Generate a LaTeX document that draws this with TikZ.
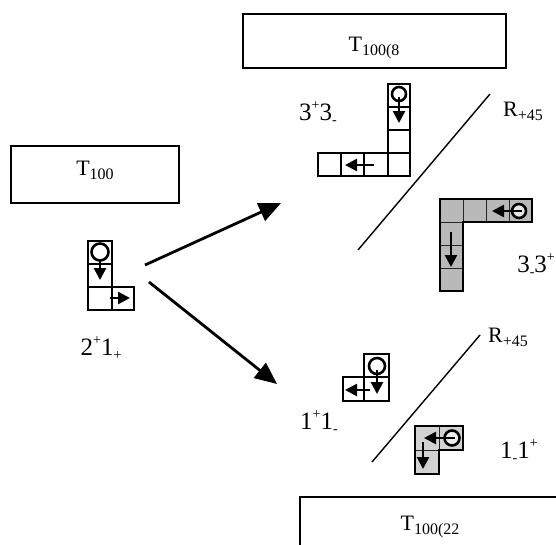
\documentclass[tikz,border=0pt]{standalone}
\usepackage{fontspec}
\setmainfont{Liberation Serif}
\usetikzlibrary{arrows.meta}
\newcommand\lsup[1]{\raisebox{0.42em}{\fontsize{14}{14}\selectfont #1}}
\newcommand\lsub[1]{\raisebox{-0.18em}{\fontsize{14}{14}\selectfont #1}}
\newcommand\tsub[1]{\raisebox{-0.2em}{\fontsize{16}{16}\selectfont #1}}
\begin{document}
\begin{tikzpicture}[x=1pt,y=-1pt,
  box/.style={draw, line width=1.2pt, inner sep=0pt},
  cell/.style={draw, line width=1.4pt},
  gline/.style={line width=0.5pt, gray!30!black},
  ring/.style={line width=2.6pt},
  arr/.style={-{Triangle[length=12pt,width=12pt]}, line width=2.6pt},
  bigarr/.style={-{Triangle[length=22pt,width=19pt]}, line width=2.8pt},
  lab/.style={font=\fontsize{25}{25}\selectfont, anchor=base, inner sep=0pt},
  tlab/.style={font=\fontsize{22}{22}\selectfont, anchor=base, inner sep=0pt},
  mir/.style={line width=1.4pt}]
\useasboundingbox (0,0) rectangle (556,544);
\clip (0,0) rectangle (556,544);

% boxes
\node[box, minimum width=263pt, minimum height=54pt] (b8) at (374.5,41) {};
\node[tlab] (t8) at (374,51) {T\tsub{100(8}};
\node[box, minimum width=168pt, minimum height=57pt] (b0) at (95,174.5) {};
\node[tlab] (t0) at (95,175) {T\tsub{100}};
\node[box, minimum width=262pt, minimum height=53pt] (b22) at (431,523.5) {};
\node[tlab] (t22) at (430,530) {T\tsub{100(22}};

% shape 2+1+
\draw[cell] (88,241) rectangle (112,264);
\draw[cell] (88,264) rectangle (112,287);
\draw[cell] (88,287) rectangle (112,310);
\draw[cell] (112,287) rectangle (134,310);
\draw[ring] (100,252) circle (8.5pt);
\draw[arr] (100,259) -- (100,280);
\draw[arr] (110,298) -- (130,298);
\node[lab] (l21) at (101,355) {2\lsup{+}1\lsub{+}};

% shape 3+3-
\draw[cell] (388,84) rectangle (410,107);
\draw[cell] (388,107) rectangle (410,130);
\draw[cell] (388,130) rectangle (410,153);
\draw[cell] (388,153) rectangle (410,176);
\draw[cell] (318,153) rectangle (341,176);
\draw[cell] (341,153) rectangle (364,176);
\draw[cell] (364,153) rectangle (388,176);
\draw[ring] (399,94) circle (7pt);
\draw[arr] (399,97) -- (399,123);
\draw[arr] (374,165) -- (345,165);
\node[lab] (l33a) at (318,120) {3\lsup{+}3\lsub{-}};

% shape 3-3+ (grey)
\fill[gray!55] (440,199) -- (532,199) -- (532,222) -- (463,222) -- (463,291) -- (440,291) -- cycle;
\draw[gline] (463,199) -- (463,222) (486,199) -- (486,222) (509,199) -- (509,222)
  (440,222) -- (463,222) (440,245) -- (463,245) (440,268) -- (463,268);
\draw[line width=1.6pt] (440,199) -- (532,199) -- (532,222) -- (463,222) -- (463,291) -- (440,291) -- cycle;
\draw[ring, fill=gray!20] (519,211) circle (7pt);
\draw[arr] (522,211) -- (492,211);
\draw[arr] (451,232) -- (451,267);
\node[lab, anchor=base east] (l33b) at (555,272) {3\lsub{-}3\lsup{+}};

% shape 1+1-
\draw[cell] (364,354) rectangle (389,377);
\draw[cell] (364,377) rectangle (389,401);
\draw[cell] (343,377) rectangle (364,401);
\draw[ring] (377,366) circle (8pt);
\draw[arr] (377,370) -- (377,394);
\draw[arr] (370,390) -- (345,390);
\node[lab] (l11a) at (319,429) {1\lsup{+}1\lsub{-}};

% shape 1-1+ (grey)
\fill[gray!35] (415,426) -- (463,426) -- (463,450) -- (439,450) -- (439,474) -- (415,474) -- cycle;
\draw[gline] (439,426) -- (439,450) (415,450) -- (439,450);
\draw[line width=1.6pt] (415,426) -- (463,426) -- (463,450) -- (439,450) -- (439,474) -- (415,474) -- cycle;
\draw[ring, fill=gray!15] (452,438) circle (7.5pt);
\draw[arr] (455,438) -- (424,438);
\draw[arr] (423,442) -- (423,469);
\node[lab] (l11b) at (519,458) {1\lsub{-}1\lsup{+}};

% mirror lines
\coordinate (m1a) at (490,94);
\coordinate (m1b) at (358,250);
\coordinate (m2a) at (480,335);
\coordinate (m2b) at (372,462);
\draw[mir] (m1a) -- (m1b);
\draw[mir] (m2a) -- (m2b);
\node[tlab, anchor=base west] (r1) at (503,116) {R\tsub{+45}};
\node[tlab, anchor=base west] (r2) at (488,342) {R\tsub{+45}};

% big arrows
\coordinate (s1) at (145,265);
\coordinate (e1) at (281,203);
\coordinate (s2) at (149,282);
\coordinate (e2) at (277,384);
\draw[bigarr] (s1) -- (e1);
\draw[bigarr] (s2) -- (e2);
\end{tikzpicture}
\end{document}
